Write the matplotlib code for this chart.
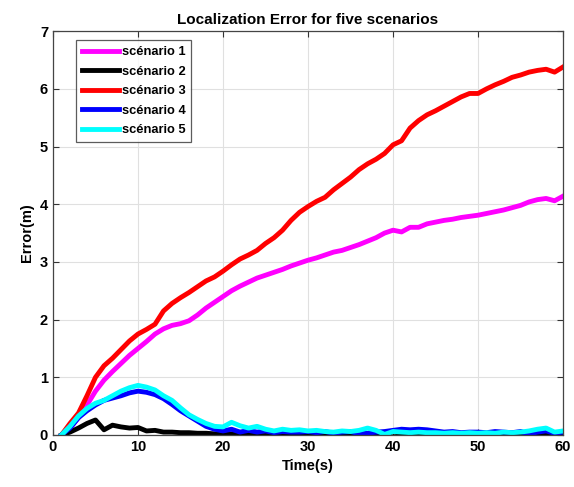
import matplotlib
matplotlib.use("Agg")
import matplotlib.pyplot as plt
import numpy as np

plt.rcParams['font.family'] = ['Liberation Sans', 'DejaVu Sans']
plt.rcParams['font.weight'] = 'bold'

time_s = list(range(1, 61))

scenario1 = [0, 0.12, 0.3, 0.52, 0.76, 0.95, 1.1, 1.24, 1.38, 1.5,
             1.62, 1.75, 1.84, 1.9, 1.93, 1.98, 2.08, 2.2, 2.3, 2.4,
             2.5, 2.58, 2.65, 2.72, 2.77, 2.82, 2.87, 2.93, 2.98, 3.03,
             3.07, 3.12, 3.17, 3.2, 3.25, 3.3, 3.36, 3.42, 3.5, 3.55,
             3.52, 3.6, 3.6, 3.66, 3.69, 3.72, 3.74, 3.77, 3.79, 3.81,
             3.84, 3.87, 3.9, 3.94, 3.98, 4.04, 4.08, 4.1, 4.06, 4.14]

scenario2 = [0, 0.05, 0.12, 0.2, 0.26, 0.09, 0.17, 0.14, 0.12, 0.13,
             0.07, 0.08, 0.05, 0.05, 0.04, 0.04, 0.03, 0.03, 0.02, 0.0,
             0.02, 0.01, 0.02, 0.01, 0.02, 0.01, 0.01, 0.02, 0.01, 0.01,
             0.02, 0.01, 0.01, 0.02, 0.01, 0.01, 0.02, 0.03, 0.02, 0.05,
             0.03, 0.02, 0.01, 0.02, 0.01, 0.02, 0.01, 0.01, 0.02, 0.01,
             0.01, 0.02, 0.01, 0.01, 0.02, 0.01, 0.01, 0.02, 0.01, 0.01]

scenario3 = [0, 0.2, 0.38, 0.68, 1.0, 1.2, 1.33, 1.48, 1.63, 1.75,
             1.83, 1.92, 2.15, 2.28, 2.38, 2.47, 2.57, 2.67, 2.74, 2.84,
             2.95, 3.05, 3.12, 3.2, 3.32, 3.42, 3.55, 3.72, 3.86, 3.96,
             4.05, 4.12, 4.25, 4.36, 4.47, 4.6, 4.7, 4.78, 4.88, 5.03,
             5.1, 5.32, 5.45, 5.55, 5.62, 5.7, 5.78, 5.86, 5.92, 5.92,
             6.0, 6.07, 6.13, 6.2, 6.24, 6.29, 6.32, 6.34, 6.29, 6.38]

scenario4 = [0, 0.12, 0.3, 0.42, 0.52, 0.6, 0.64, 0.68, 0.73, 0.76,
             0.74, 0.7, 0.63, 0.53, 0.42, 0.33, 0.24, 0.15, 0.1, 0.07,
             0.1, 0.05, 0.08, 0.05, 0.07, 0.04, 0.06, 0.05, 0.05, 0.06,
             0.04, 0.06, 0.03, 0.05, 0.06, 0.02, 0.03, 0.05, 0.06, 0.08,
             0.1, 0.09, 0.1, 0.09, 0.07, 0.05, 0.06, 0.04, 0.05, 0.05,
             0.04, 0.06, 0.05, 0.04, 0.06, 0.02, 0.05, 0.07, 0.03, 0.05]

scenario5 = [0, 0.15, 0.33, 0.46, 0.55, 0.6, 0.68, 0.76, 0.82, 0.86,
             0.83, 0.78, 0.68, 0.6, 0.47, 0.35, 0.27, 0.2, 0.15, 0.14,
             0.22, 0.16, 0.12, 0.15, 0.1, 0.07, 0.1, 0.08, 0.09, 0.07,
             0.08, 0.06, 0.05, 0.07, 0.06, 0.08, 0.12, 0.08, 0.01, 0.06,
             0.05, 0.04, 0.05, 0.04, 0.04, 0.03, 0.04, 0.03, 0.04, 0.03,
             0.04, 0.03, 0.05, 0.04, 0.05, 0.07, 0.1, 0.12, 0.05, 0.07]

labels = ['scénario 1', 'scénario 2', 'scénario 3', 'scénario 4', 'scénario 5']
colors = ['#ff00ff', '#000000', '#ff0000', '#0000ff', '#00ffff']
xticks = [0, 10, 20, 30, 40, 50, 60]
yticks = [0, 1, 2, 3, 4, 5, 6, 7]

fig = plt.figure(figsize=(5.74, 4.87), dpi=100)
ax = fig.add_axes([0.0923, 0.1068, 0.8887, 0.8292])

for vals, lab, col in zip([scenario1, scenario2, scenario3, scenario4, scenario5], labels, colors):
    ax.plot(time_s, vals, color=col, lw=3.5, label=lab, solid_joinstyle='round')

ax.set_xlim(0, 60)
ax.set_ylim(0, 7)
ax.set_xticks(xticks)
ax.set_yticks(yticks)
ax.grid(True, color='#e0e0e0', lw=0.8)
ax.set_axisbelow(True)
ax.tick_params(direction='in', top=True, right=True, labelsize=10.5, color='#333333', length=4)
for lbl in ax.get_xticklabels() + ax.get_yticklabels():
    lbl.set_fontweight('bold')
for sp in ax.spines.values():
    sp.set_color('#444444')
    sp.set_linewidth(0.9)

ax.set_title('Localization Error for five scenarios', fontsize=11, fontweight='bold', pad=5)
ax.set_xlabel('Time(s)', fontsize=10.5, fontweight='bold', labelpad=4)
ax.set_ylabel('Error(m)', fontsize=10.5, fontweight='bold', labelpad=4)

leg = ax.legend(loc='upper left', bbox_to_anchor=(0.045, 0.977), fontsize=9.3,
                frameon=True, fancybox=False, handlelength=2.9, handletextpad=0.2,
                labelspacing=0.58, borderpad=0.45, borderaxespad=0.0)
leg.get_frame().set_edgecolor('#333333')
leg.get_frame().set_linewidth(0.9)
for t in leg.get_texts():
    t.set_fontweight('bold')

fig.savefig('out.png', dpi=100)
